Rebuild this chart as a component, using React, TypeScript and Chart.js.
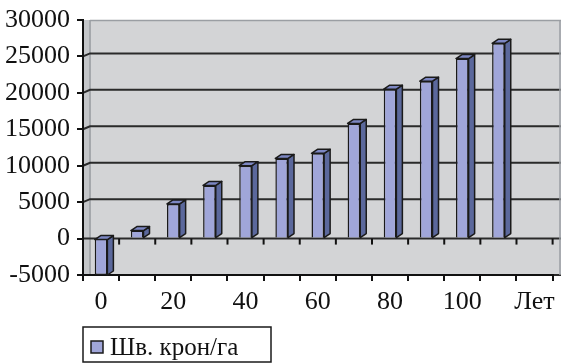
import React, { useEffect, useRef } from "react";
import { Chart, registerables } from "chart.js";

Chart.register(...registerables);

const xLabels = ["0", "", "20", "", "40", "", "60", "", "80", "", "100", "", "Лет"];
const values: (number | null)[] = [-5000, 1100, 4750, 7300, 10000, 11000, 11700, 15800, 20500, 21600, 24700, 26800, null];
const seriesLabel = "Шв. крон/га";
const yMin = -5000;
const yMax = 30000;
const yStep = 5000;

const FRONT = "#a0a6d9";
const SIDE = "#5b689c";
const TOPC = "#7d87c3";
const WALL = "#d3d4d6";
const LEFTWALL = "#c4c6c9";
const FONT = '"Liberation Serif", "Times New Roman", serif';
const DX = 6;
const DY = 4;

const wallPlugin = {
  id: "wall3d",
  beforeDraw(chart: any) {
    const { ctx, chartArea: a, scales } = chart;
    const y = scales.y;
    const x = scales.x;
    const W = chart.width;
    ctx.save();
    ctx.fillStyle = WALL;
    ctx.fillRect(a.left + 1, a.top, W - a.left - 1, a.bottom - a.top);
    ctx.fillStyle = LEFTWALL;
    ctx.fillRect(a.left + 1, a.top, DX + 1, a.bottom - a.top);
    ctx.strokeStyle = "#9a9ea3";
    ctx.lineWidth = 1.5;
    ctx.beginPath();
    ctx.moveTo(a.left + DX + 1, a.top);
    ctx.lineTo(a.left + DX + 1, a.bottom);
    ctx.moveTo(a.left + DX + 1, a.top + 0.5);
    ctx.lineTo(W, a.top + 0.5);
    ctx.stroke();
    ctx.strokeStyle = "#2a2a2a";
    ctx.lineWidth = 2;
    y.ticks.forEach((t: any) => {
      const py = y.getPixelForValue(t.value);
      if (t.value === yMax) return;
      ctx.beginPath();
      if (t.value === 0 || t.value === yMin) {
        ctx.moveTo(a.left, py);
        ctx.lineTo(W, py);
      } else {
        ctx.moveTo(a.left, py);
        ctx.lineTo(a.left + DX + 1, py - 3);
        ctx.lineTo(W, py - 3);
      }
      ctx.stroke();
    });
    const y0 = y.getPixelForValue(0);
    const half = (x.getPixelForValue(1) - x.getPixelForValue(0)) / 2;
    ctx.strokeStyle = "#111";
    ctx.lineWidth = 2;
    for (let i = 0; i <= xLabels.length; i++) {
      const px = x.getPixelForValue(i) - half;
      ctx.beginPath();
      ctx.moveTo(px, y0);
      ctx.lineTo(px, y0 + 6);
      ctx.stroke();
    }
    ctx.strokeStyle = "#9a9ea3";
    ctx.lineWidth = 1.5;
    ctx.beginPath();
    ctx.moveTo(W - 1, a.top);
    ctx.lineTo(W - 1, a.bottom);
    ctx.stroke();
    ctx.restore();
  },
  afterDatasetsDraw(chart: any) {
    const { ctx } = chart;
    const meta = chart.getDatasetMeta(0);
    ctx.save();
    ctx.strokeStyle = "#1a1a1a";
    ctx.lineWidth = 1.5;
    ctx.lineJoin = "round";
    meta.data.forEach((bar: any, i: number) => {
      if (values[i] == null) return;
      const { x, y, base, width } = bar.getProps(["x", "y", "base", "width"], true);
      const l = x - width / 2;
      const r = x + width / 2;
      const t = Math.min(y, base);
      const b = Math.max(y, base);
      ctx.beginPath();
      ctx.moveTo(r, t);
      ctx.lineTo(r + DX, t - DY);
      ctx.lineTo(r + DX, b - DY);
      ctx.lineTo(r, b);
      ctx.closePath();
      ctx.fillStyle = SIDE;
      ctx.fill();
      ctx.stroke();
      ctx.beginPath();
      ctx.moveTo(l, t);
      ctx.lineTo(l + DX, t - DY);
      ctx.lineTo(r + DX, t - DY);
      ctx.lineTo(r, t);
      ctx.closePath();
      ctx.fillStyle = TOPC;
      ctx.fill();
      ctx.stroke();
    });
    ctx.restore();
  },
  afterDraw(chart: any) {
    const { ctx, chartArea: a } = chart;
    ctx.save();
    const lx = a.left;
    const ly = 327;
    const lw = 188;
    const lh = 35;
    ctx.fillStyle = "#fff";
    ctx.fillRect(lx, ly, lw, lh);
    ctx.strokeStyle = "#1a1a1a";
    ctx.lineWidth = 1.5;
    ctx.strokeRect(lx, ly, lw, lh);
    ctx.fillStyle = FRONT;
    ctx.fillRect(lx + 8, ly + 14, 12, 12);
    ctx.strokeRect(lx + 8, ly + 14, 12, 12);
    ctx.fillStyle = "#111";
    ctx.font = `25px ${FONT}`;
    ctx.textBaseline = "alphabetic";
    ctx.textAlign = "left";
    ctx.fillText(seriesLabel, lx + 27, ly + 28);
    ctx.restore();
  },
};

export default function App() {
  const ref = useRef<HTMLCanvasElement | null>(null);
  useEffect(() => {
    if (!ref.current) return;
    const chart = new Chart(ref.current, {
      type: "bar",
      data: {
        labels: xLabels,
        datasets: [
          {
            label: seriesLabel,
            data: values,
            backgroundColor: FRONT,
            borderColor: "#1a1a1a",
            borderWidth: 1.5,
            categoryPercentage: 0.5,
            barPercentage: 0.7,
          },
        ],
      },
      options: {
        animation: false,
        responsive: false,
        devicePixelRatio: 1,
        layout: { padding: { top: 12, right: 7, left: 0, bottom: 0 } },
        plugins: { legend: { display: false }, tooltip: { enabled: false } },
        scales: {
          x: {
            type: "category",
            offset: true,
            ticks: {
              autoSkip: false,
              maxRotation: 0,
              minRotation: 0,
              color: "#111",
              font: { family: FONT, size: 26 },
              padding: 6,
            },
            grid: { offset: true, drawOnChartArea: false, drawTicks: true, tickLength: 6, color: "#111", lineWidth: 2 },
            border: { color: "#111", width: 2 },
            afterFit(s: any) {
              s.height = 89;
            },
          },
          y: {
            min: yMin,
            max: yMax,
            ticks: {
              stepSize: yStep,
              color: "#111",
              font: { family: FONT, size: 26, lineHeight: 1 },
              padding: 7,
              callback: (v: any) => (Number(v) < 0 ? "-" + String(Math.abs(Number(v))) : String(v)),
            },
            grid: { drawOnChartArea: false, drawTicks: true, tickLength: 6, color: "#111", lineWidth: 2 },
            border: { color: "#111", width: 2 },
            afterFit(s: any) {
              s.width = 83;
            },
          },
        },
      },
      plugins: [wallPlugin],
    } as any);
    return () => chart.destroy();
  }, []);
  return (
    <div style={{ position: "fixed", left: 0, top: 0, width: 561, height: 364, background: "#fff" }}>
      <canvas ref={ref} width={561} height={364} style={{ display: "block" }} />
    </div>
  );
}
